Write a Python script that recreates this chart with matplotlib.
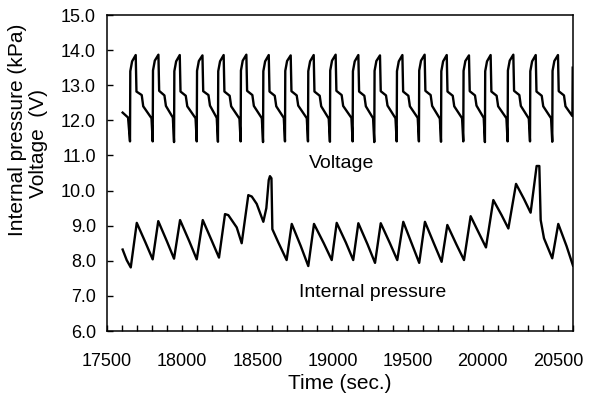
import matplotlib
matplotlib.use("Agg")
import matplotlib.pyplot as plt
from matplotlib.ticker import MultipleLocator

plt.rcParams['font.family'] = ['Liberation Sans', 'DejaVu Sans']

# Cell voltage (V): one line per charge/discharge cycle
voltage_time = [
    17604, 17640,
    17653, 17655, 17667, 17691, 17696, 17731, 17741, 17796,
    17804, 17806, 17818, 17842, 17847, 17882, 17892, 17938,
    17946, 17948, 17960, 17984, 17989, 18024, 18034, 18089,
    18097, 18099, 18111, 18135, 18140, 18175, 18185, 18230,
    18238, 18240, 18252, 18276, 18281, 18316, 18326, 18381,
    18389, 18391, 18403, 18427, 18432, 18467, 18477, 18530,
    18538, 18540, 18552, 18576, 18581, 18616, 18626, 18676,
    18684, 18686, 18698, 18722, 18727, 18762, 18772, 18829,
    18837, 18839, 18851, 18875, 18880, 18915, 18925, 18975,
    18983, 18985, 18997, 19021, 19026, 19061, 19071, 19126,
    19134, 19136, 19148, 19172, 19177, 19212, 19222, 19270,
    19278, 19280, 19292, 19316, 19321, 19356, 19366, 19419,
    19427, 19429, 19441, 19465, 19470, 19505, 19515, 19567,
    19575, 19577, 19589, 19613, 19618, 19653, 19663, 19714,
    19722, 19724, 19736, 19760, 19765, 19800, 19810, 19862,
    19870, 19872, 19884, 19908, 19913, 19948, 19958, 20006,
    20014, 20016, 20028, 20052, 20057, 20092, 20102, 20157,
    20165, 20167, 20179, 20203, 20208, 20243, 20253, 20306,
    20314, 20316, 20328, 20352, 20357, 20392, 20402, 20454,
    20462, 20464, 20476, 20500, 20505, 20540, 20550, 20596,
    20598,
]
voltage_value = [
    12.22, 12.08,
    11.40, 13.40, 13.68, 13.86, 12.82, 12.72, 12.40, 12.06,
    11.40, 13.42, 13.70, 13.87, 12.84, 12.71, 12.41, 12.08,
    11.38, 13.40, 13.68, 13.86, 12.82, 12.70, 12.40, 12.06,
    11.40, 13.41, 13.69, 13.85, 12.83, 12.72, 12.42, 12.07,
    11.39, 13.40, 13.68, 13.86, 12.82, 12.70, 12.40, 12.05,
    11.40, 13.42, 13.70, 13.87, 12.84, 12.72, 12.41, 12.06,
    11.38, 13.40, 13.68, 13.86, 12.82, 12.70, 12.40, 12.07,
    11.40, 13.41, 13.69, 13.85, 12.83, 12.71, 12.42, 12.06,
    11.40, 13.40, 13.68, 13.86, 12.82, 12.70, 12.40, 12.05,
    11.39, 13.42, 13.70, 13.87, 12.84, 12.72, 12.41, 12.07,
    11.40, 13.40, 13.68, 13.86, 12.82, 12.70, 12.40, 12.06,
    11.38, 13.41, 13.69, 13.85, 12.83, 12.71, 12.42, 12.06,
    11.40, 13.40, 13.68, 13.86, 12.82, 12.70, 12.40, 12.07,
    11.40, 13.42, 13.70, 13.87, 12.84, 12.72, 12.41, 12.05,
    11.39, 13.40, 13.68, 13.86, 12.82, 12.70, 12.40, 12.06,
    11.40, 13.41, 13.69, 13.85, 12.83, 12.71, 12.42, 12.07,
    11.38, 13.40, 13.68, 13.86, 12.82, 12.70, 12.40, 12.06,
    11.40, 13.42, 13.70, 13.87, 12.84, 12.72, 12.41, 12.05,
    11.40, 13.40, 13.68, 13.86, 12.82, 12.70, 12.40, 12.06,
    11.39, 13.41, 13.69, 13.86, 12.83, 12.71, 12.40, 12.12,
    13.50,
]

# Internal pressure (kPa)
pressure_time = [
    17604, 17631, 17658, 17698, 17756, 17804, 17841, 17899, 17946,
    17986, 18047, 18097, 18137, 18196, 18245, 18285, 18307, 18363,
    18396, 18440, 18463, 18496, 18540, 18560, 18576, 18584, 18594,
    18600, 18640, 18695, 18729, 18789, 18839, 18877, 18942, 18995,
    19028, 19089, 19138, 19172, 19233, 19283, 19321, 19382, 19431,
    19471, 19529, 19577, 19615, 19676, 19726, 19764, 19825, 19875,
    19919, 19975, 20021, 20070, 20125, 20170, 20221, 20274, 20318,
    20358, 20376, 20385, 20407, 20462, 20502, 20557, 20600,
]
pressure_value = [
    8.32, 8.02, 7.81, 9.08, 8.52, 8.04, 9.13, 8.55, 8.06,
    9.16, 8.56, 8.04, 9.16, 8.58, 8.09, 9.33, 9.30, 8.95,
    8.50, 9.87, 9.83, 9.62, 9.11, 9.50, 10.30, 10.41, 10.35,
    8.90, 8.52, 8.02, 9.05, 8.42, 7.85, 9.05, 8.50, 8.02,
    9.08, 8.52, 8.02, 9.07, 8.47, 7.94, 9.07, 8.50, 8.02,
    9.11, 8.47, 7.94, 9.11, 8.48, 7.97, 9.02, 8.46, 8.02,
    9.27, 8.78, 8.38, 9.73, 9.30, 8.92, 10.19, 9.76, 9.37,
    10.70, 10.70, 9.16, 8.64, 8.07, 9.05, 8.42, 7.86,
]

x_ticks = [17500, 18000, 18500, 19000, 19500, 20000, 20500]
y_ticks = [6.0, 7.0, 8.0, 9.0, 10.0, 11.0, 12.0, 13.0, 14.0, 15.0]

fig = plt.figure(figsize=(5.97, 3.97), dpi=100)
ax = fig.add_axes([107 / 597, 1 - 331 / 397, 466 / 597, 316 / 397])

ax.plot(voltage_time, voltage_value, color='black', lw=1.7)
ax.plot(pressure_time, pressure_value, color='black', lw=1.7)

ax.set_xlim(17500, 20600)
ax.set_ylim(6.0, 15.0)
ax.set_xticks(x_ticks)
ax.set_xticklabels([str(t) for t in x_ticks])
ax.xaxis.set_minor_locator(MultipleLocator(100))
ax.set_yticks(y_ticks)
ax.set_yticklabels([f"{v:.1f}" for v in y_ticks])

ax.tick_params(which='both', direction='in', length=4, width=1.0,
               top=False, right=False, labelsize=13, colors='black')
ax.tick_params(axis='x', pad=16)
ax.tick_params(axis='y', pad=8)
for s in ax.spines.values():
    s.set_linewidth(1.1)
    s.set_color('black')

ax.set_xlabel('Time (sec.)', fontsize=15, labelpad=3)

# two-line y-axis title
fig.text(18 / 597, 1 - 130 / 397, 'Internal pressure (kPa)', fontsize=15,
         rotation=90, ha='center', va='center')
fig.text(39 / 597, 1 - 144 / 397, 'Voltage  (V)', fontsize=15,
         rotation=90, ha='center', va='center')

ax.text(19063, 10.78, 'Voltage', fontsize=14, ha='center', va='center')
ax.text(19266, 7.11, 'Internal pressure', fontsize=14, ha='center', va='center')

fig.savefig('out.png', dpi=100)
